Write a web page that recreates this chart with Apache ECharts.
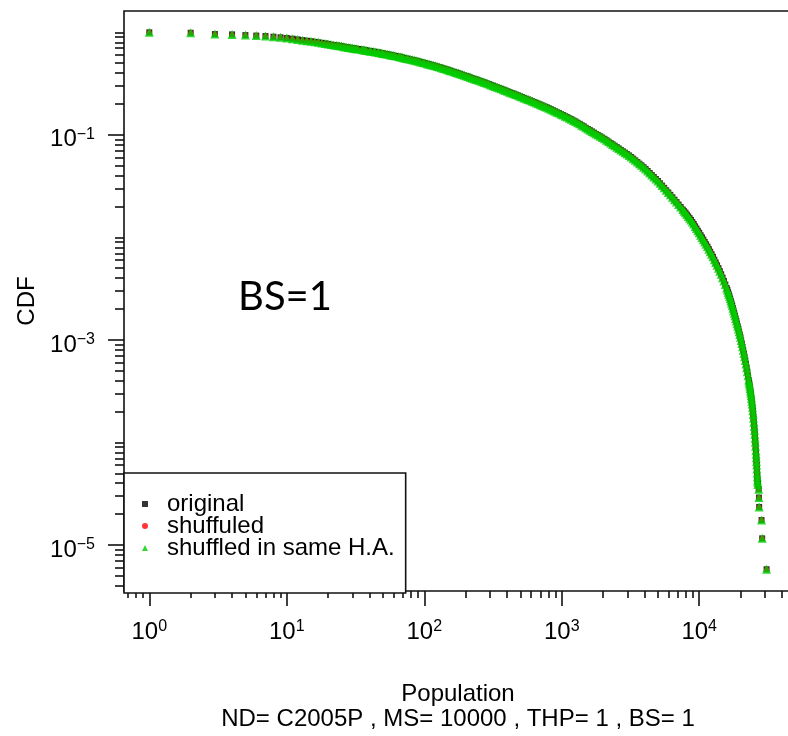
<!DOCTYPE html>
<html>
<head>
<meta charset="utf-8">
<script src="https://cdn.jsdelivr.net/npm/echarts@6/dist/echarts.min.js"></script>
<style>html,body{margin:0;padding:0;background:#fff}#c{width:788px;height:736px}</style>
</head>
<body>
<div id="c"></div>
<script>
const population = [1,2,3,4,5,6,7,8,9,10,11,12,13,14,15,16,17,18,19,20,
21,22,23,24,25,26,27,28,29,30,31,32,33,35,36,37,38,40,41,43,
44,46,47,49,50,52,54,56,58,60,62,65,67,69,71,74,76,79,82,85,
88,91,94,98,101,105,108,112,116,120,124,129,133,138,143,148,153,158,164,170,
176,182,188,195,202,209,216,224,232,240,248,257,266,275,285,295,305,316,327,339,
351,363,376,389,403,417,432,447,463,479,496,513,531,550,569,589,610,631,653,676,
700,724,750,776,803,832,861,891,923,955,988,1023,1059,1096,1135,1175,1216,1259,1303,1349,
1396,1445,1496,1549,1603,1660,1718,1778,1840,1905,1972,2042,2114,2188,2265,2344,2427,2512,2600,2692,
2786,2884,2985,3090,3199,3311,3427,3548,3673,3802,3936,4074,4217,4365,4518,4677,4842,5012,5188,5370,
5559,5754,5957,6166,6383,6607,6839,7079,7328,7586,7762,
7943,8128,8318,8512,8710,8913,9120,9333,9550,9772,10000,10233,10471,10715,10965,11220,11482,11749,12023,12303,
12589,12882,13183,13490,13804,14125,14454,14791,15136,15488,15849,16032,16218,16406,16596,16788,16982,17179,17378,17579,
17783,17989,18197,18408,18621,18836,19055,19275,19498,19724,19953,20184,20417,20654,20893,21135,21380,21627,21878,22131,
22387,22646,22909,23041,23174,23308,23442,23578,23714,23850,23988,24126,24266,24406,24547,24689,24831,24975,25119,25235,
25351,25468,25586,25704,25823,25912,26002,26092,26182,26272,26363,26454,26546,26638,26730,
27100,27200,27300,28400,28700,30900];

const cdfOriginal = [1,0.99,0.962,0.955,0.94,0.929,0.92,0.906,0.894,0.881,0.867,0.853,0.839,0.828,0.818,0.807,0.798,0.789,0.78,0.771,
.759,.752,.746,.740,.735,.724,.718,.713,.707,.702,.697,.692,.687,.681,.675,.670,.666,.659,.654,.649,
.643,.638,.632,.627,.622,.617,.611,.605,.599,.593,.587,.582,.576,.570,.563,.557,.551,.546,.539,.533,
.527,.521,.514,.508,.501,.495,.489,.483,.477,.471,.464,.458,.451,.445,.438,.432,.425,.419,.412,.406,
.400,.394,.387,.381,.375,.370,.363,.357,.351,.346,.340,.335,.329,.324,.318,.313,.307,.302,.296,.291,
.286,.281,.276,.271,.266,.261,.256,.252,.247,.243,.238,.234,.229,.225,.221,.217,.213,.209,.205,.201,
.197,.193,.189,.186,.182,.178,.174,.170,.166,.163,.159,.156,.152,.149,.145,.142,.138,.135,.131,.128,
.124,.121,.117,.114,.111,.108,.105,.102,.0994,.0968,.0941,.0914,.0886,.0859,.0833,.0807,.0783,.0759,.0736,.0713,
.0691,.067,.065,.063,.0608,.0586,.0564,.0543,.0523,.0504,.0484,.0465,.0445,.0425,.0406,.0388,.0371,.0355,.0337,.032,
.0304,.0288,.0274,.026,.0246,.0233,.0221,.0209,.0198,.0187,.018,
.0174,.0167,.016,.0154,.0148,.0141,.0135,.0128,.0122,.0116,.0111,.0105,.01,.0095,.00902,.00856,.00813,.00767,.00724,.00684,
.00646,.00606,.00569,.00534,.00501,.00468,.00437,.00405,.00376,.00347,.0032,.00306,.00292,.00279,.00266,.00253,.0024,.00228,.00216,.00204,
.00193,.00182,.00172,.00162,.00153,.00144,.00136,.00128,.0012,.00113,.00106,.000989,.000923,.000856,.000794,.000737,.000684,.000631,.000582,.000534,
.00049,.000447,.000407,.000389,.000372,.000353,.000335,.000318,.000302,.000285,.000269,.000252,.000237,.00022,.000204,.000187,.000172,.000157,.000143,.000131,
.00012,.00011,.000101,.0000917,.0000832,.0000767,.0000708,.0000653,.0000603,.000055,.0000501,.0000462,.0000427,.0000408,.0000389,
.000035,.000029,.0000235,.0000175,.0000116,.0000058];

const cdfShuffled = [1,0.99,0.962,0.955,0.94,0.929,0.92,0.906,0.894,0.881,0.867,0.853,0.839,0.828,0.818,0.807,0.798,0.789,0.78,0.771,
.759,.752,.746,.740,.735,.724,.718,.713,.707,.702,.697,.692,.687,.681,.675,.670,.666,.659,.654,.649,
.643,.638,.632,.627,.622,.617,.611,.605,.599,.593,.587,.582,.576,.570,.563,.557,.551,.546,.539,.533,
.527,.521,.514,.508,.501,.495,.489,.483,.477,.471,.464,.458,.451,.445,.438,.432,.425,.419,.412,.406,
.400,.394,.387,.381,.375,.370,.363,.357,.351,.346,.340,.335,.329,.324,.318,.313,.307,.302,.296,.291,
.286,.281,.276,.271,.266,.261,.256,.252,.247,.243,.238,.234,.229,.225,.221,.217,.213,.209,.205,.201,
.197,.193,.189,.186,.182,.178,.174,.170,.166,.163,.159,.156,.152,.149,.145,.142,.138,.135,.131,.128,
.124,.121,.117,.114,.111,.108,.105,.102,.0994,.0968,.0941,.0914,.0886,.0859,.0833,.0807,.0783,.0759,.0736,.0713,
.0691,.067,.065,.063,.0608,.0586,.0564,.0543,.0523,.0504,.0484,.0465,.0445,.0425,.0406,.0388,.0371,.0355,.0337,.032,
.0304,.0288,.0274,.026,.0246,.0233,.0221,.0209,.0198,.0187,.018,
.0174,.0167,.016,.0154,.0148,.0141,.0135,.0128,.0122,.0116,.0111,.0105,.01,.0095,.00902,.00856,.00813,.00767,.00724,.00684,
.00646,.00606,.00569,.00534,.00501,.00468,.00437,.00405,.00376,.00347,.0032,.00306,.00292,.00279,.00266,.00253,.0024,.00228,.00216,.00204,
.00193,.00182,.00172,.00162,.00153,.00144,.00136,.00128,.0012,.00113,.00106,.000989,.000923,.000856,.000794,.000737,.000684,.000631,.000582,.000534,
.00049,.000447,.000407,.000389,.000372,.000353,.000335,.000318,.000302,.000285,.000269,.000252,.00023,.000213,.000196,.00018,.000165,.00015,.000138,.000126,
.000115,.000104,.000097,.000088,.00008,.0000745,.000069,.0000640,.0000590,.0000540,.0000495,.0000458,.0000420,.0000402,.0000385,
.000035,.000029,.0000235,.0000175,.0000116,.0000058];

const cdfShuffledHA = [1,0.99,0.962,0.955,0.94,0.929,0.92,0.906,0.894,0.881,0.867,0.853,0.839,0.828,0.818,0.807,0.798,0.789,0.78,0.771,
.759,.752,.746,.740,.735,.724,.718,.713,.707,.702,.697,.692,.687,.681,.675,.670,.666,.659,.654,.649,
.643,.638,.632,.627,.622,.617,.611,.605,.599,.593,.587,.582,.576,.570,.563,.557,.551,.546,.539,.533,
.527,.521,.514,.508,.501,.495,.489,.483,.477,.471,.464,.458,.451,.445,.438,.432,.425,.419,.412,.406,
.400,.394,.387,.381,.375,.370,.363,.357,.351,.346,.340,.335,.329,.324,.318,.313,.307,.302,.296,.291,
.286,.281,.276,.271,.266,.261,.256,.252,.247,.243,.238,.234,.229,.225,.221,.217,.213,.209,.205,.201,
.197,.193,.189,.186,.182,.178,.174,.170,.166,.163,.159,.156,.152,.149,.145,.142,.138,.135,.131,.128,
.124,.121,.117,.114,.111,.108,.105,.102,.0994,.0968,.0941,.0914,.0886,.0859,.0833,.0807,.0783,.0759,.0736,.0713,
.0691,.067,.065,.063,.0608,.0586,.0564,.0543,.0523,.0504,.0484,.0465,.0445,.0425,.0406,.0388,.0371,.0355,.0337,.032,
.0304,.0288,.0274,.026,.0246,.0233,.0221,.0209,.0198,.0187,.018,
.0174,.0167,.016,.0154,.0148,.0141,.0135,.0128,.0122,.0116,.0111,.0105,.01,.0095,.00902,.00856,.00813,.00767,.00724,.00684,
.00646,.00606,.00569,.00534,.00501,.00468,.00437,.00405,.00376,.00347,.0032,.00306,.00292,.00279,.00266,.00253,.0024,.00228,.00216,.00204,
.00193,.00182,.00172,.00162,.00153,.00144,.00136,.00128,.0012,.00113,.00106,.000989,.000923,.000856,.000794,.000737,.000684,.000631,.000582,.000534,
.00049,.000447,.000407,.000389,.000372,.000353,.000335,.000318,.000302,.000285,.000269,.000252,.000237,.00022,.000204,.000187,.000172,.000157,.000143,.000131,
.00012,.00011,.000101,.0000917,.0000832,.0000767,.0000708,.0000653,.0000603,.000055,.0000501,.0000462,.0000427,.0000408,.0000389,
.000035,.000029,.0000235,.0000175,.0000116,.0000058];

const seriesNames = ['original', 'shuffuled', 'shuffled in same H.A.'];
const xMajorTicks = [1, 10, 100, 1000, 10000];
const yMajorTicks = [1e-1, 1e-3, 1e-5];
const xTitle = 'Population';
const yTitle = 'CDF';
const subTitle = 'ND= C2005P , MS= 10000 , THP= 1 , BS= 1';
const annotation = 'BS=1';

// minor ticks: 2..9 x 10^k (and the unlabeled decades on y)
const xMinorTicks = [0.7, 0.8, 0.9];
for (let k = 0; k <= 4; k++) for (let m = 2; m <= 9; m++) {
  const v = m * Math.pow(10, k); if (v < 45000) xMinorTicks.push(v);
}
const yMinorTicks = [];
for (let k = -6; k <= 0; k++) for (let m = 1; m <= 9; m++) {
  const v = m * Math.pow(10, k);
  if (m === 1 && (k === -1 || k === -3 || k === -5)) continue;
  if (v > 3.6e-6 && v <= 1.01) yMinorTicks.push(v);
}

const FONT = "'Liberation Sans', Arial, sans-serif";
const INK = '#111';
const xMin = Math.pow(10, -0.184), xMax = Math.pow(10, 4.784);
const yMin = Math.pow(10, -5.449), yMax = Math.pow(10, 0.208);

function powLabel(v) {
  const e = Math.round(Math.log10(v));
  return '{b|10}{s|' + (e < 0 ? '\u2212' + (-e) : e) + '}';
}
const labelRich = {
  b: { fontSize: 24, lineHeight: 25, verticalAlign: 'bottom', fontFamily: FONT, color: '#000' },
  s: { fontSize: 16, lineHeight: 16, verticalAlign: 'top', padding: [0, 0, 15, 0], fontFamily: FONT, color: '#000' }
};
const tickLine = { color: INK, width: 1.6 };

function pts(ys) { return population.map((x, i) => [x, ys[i]]); }

const chart = echarts.init(document.getElementById('c'), null, { renderer: 'canvas' });
chart.setOption({
  animation: false,
  backgroundColor: '#fff',
  grid: {
    left: 124, top: 11, right: -19, bottom: 145,
    show: true, borderColor: INK, borderWidth: 1.6, backgroundColor: 'transparent',
    containLabel: false, outerBoundsMode: 'none'
  },
  xAxis: [
    {
      type: 'log', logBase: 10, min: xMin, max: xMax, position: 'bottom',
      axisLine: { show: false }, splitLine: { show: false },
      axisTick: { show: true, customValues: xMajorTicks, length: 15, lineStyle: tickLine },
      axisLabel: { show: true, customValues: xMajorTicks, formatter: powLabel, rich: labelRich, margin: 28 }
    },
    {
      type: 'log', logBase: 10, min: xMin, max: xMax, position: 'bottom', offset: 0,
      axisLine: { show: false }, splitLine: { show: false },
      axisTick: { show: true, customValues: xMinorTicks, length: 7, lineStyle: tickLine },
      axisLabel: { show: false }
    }
  ],
  yAxis: [
    {
      type: 'log', logBase: 10, min: yMin, max: yMax, position: 'left',
      name: yTitle, nameLocation: 'middle', nameGap: 85, nameRotate: 90,
      nameTextStyle: { fontSize: 24, fontFamily: FONT, color: '#000' },
      axisLine: { show: false }, splitLine: { show: false },
      axisTick: { show: true, customValues: yMajorTicks, length: 16, lineStyle: tickLine },
      axisLabel: { show: true, customValues: yMajorTicks, formatter: powLabel, rich: labelRich, margin: 29, padding: [9, 0, 0, 0] }
    },
    {
      type: 'log', logBase: 10, min: yMin, max: yMax, position: 'left', offset: 0,
      axisLine: { show: false }, splitLine: { show: false },
      axisTick: { show: true, customValues: yMinorTicks, length: 9, lineStyle: tickLine },
      axisLabel: { show: false }
    }
  ],
  legend: {
    orient: 'vertical', left: 124, top: 473,
    padding: [19, 11, 33, 18], itemGap: -2, itemWidth: 6, itemHeight: 6,
    backgroundColor: '#fff', borderColor: INK, borderWidth: 1.6, borderRadius: 0,
    selectedMode: false,
    data: [
      { name: seriesNames[0], icon: 'rect' },
      { name: seriesNames[1], icon: 'circle' },
      { name: seriesNames[2], icon: 'triangle' }
    ],
    formatter: n => '{t|' + n + '}',
    textStyle: { fontSize: 24, lineHeight: 22, fontFamily: FONT, color: '#000',
      rich: { t: { fontSize: 24, lineHeight: 22, fontFamily: FONT, color: '#000', padding: [0, 0, 0, 14] } } }
  },
  graphic: [
    { type: 'text', x: 285, y: 297, style: { text: annotation, font: "40px Lato, 'Open Sans', sans-serif", fill: '#000', align: 'center', verticalAlign: 'middle', textAlign: 'center', textVerticalAlign: 'middle' } },
    { type: 'text', x: 458, y: 694, style: { text: xTitle, font: "24px " + FONT, fill: '#000', align: 'center', verticalAlign: 'middle', textAlign: 'center', textVerticalAlign: 'middle' } },
    { type: 'text', x: 458, y: 719, style: { text: subTitle, font: "24px " + FONT, fill: '#000', align: 'center', verticalAlign: 'middle', textAlign: 'center', textVerticalAlign: 'middle' } }
  ],
  series: [
    { name: seriesNames[0], type: 'scatter', xAxisIndex: 0, yAxisIndex: 0, symbol: 'rect', symbolSize: 6,
      itemStyle: { color: '#000' }, data: pts(cdfOriginal), silent: true },
    { name: seriesNames[1], type: 'scatter', xAxisIndex: 0, yAxisIndex: 0, symbol: 'circle', symbolSize: 5,
      itemStyle: { color: '#ff0000' }, data: pts(cdfShuffled), silent: true },
    { name: seriesNames[2], type: 'scatter', xAxisIndex: 0, yAxisIndex: 0, symbol: 'triangle', symbolSize: 9,
      itemStyle: { color: '#00cd00' }, data: pts(cdfShuffledHA), silent: true }
  ]
});
</script>
</body>
</html>
